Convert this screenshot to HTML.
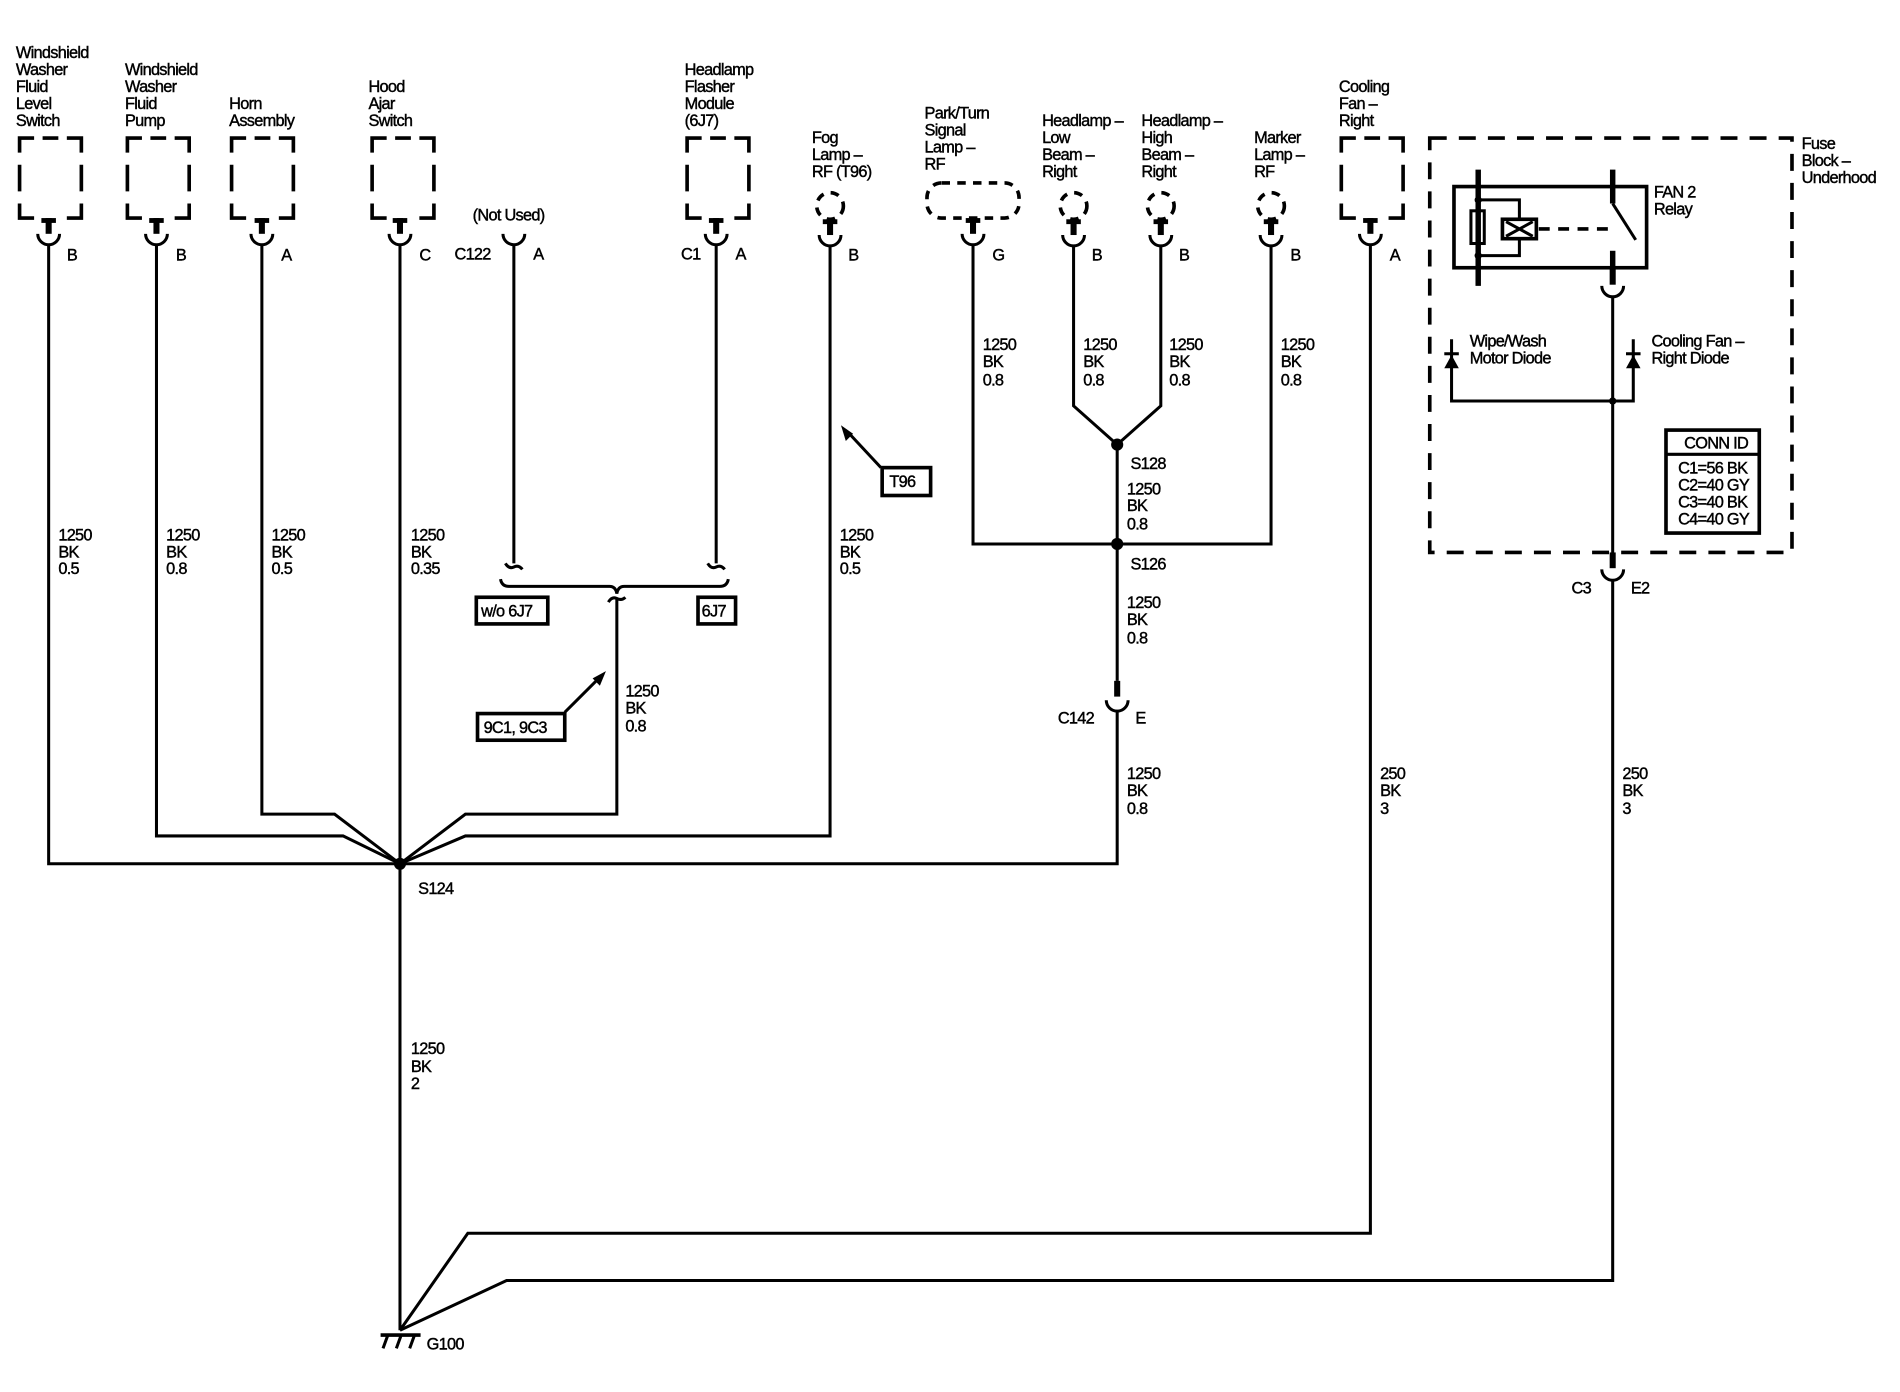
<!DOCTYPE html>
<html><head><meta charset="utf-8"><style>
html,body{margin:0;padding:0;background:#fff;}
svg{display:block;}
text{font-family:"Liberation Sans",Arial,sans-serif;font-size:13.5px;fill:#000;stroke:#000;stroke-width:0.35px;letter-spacing:-0.6px;}
</style></head><body>
<svg width="1900" height="1392" viewBox="0 0 1568 1149" xmlns="http://www.w3.org/2000/svg">
<defs>
<g id="mc">
<line x1="-6" y1="2" x2="6" y2="2" stroke="#000" stroke-width="4"/>
<line x1="0" y1="0" x2="0" y2="13" stroke="#000" stroke-width="5"/>
<path d="M-9,13 A9,9 0 0 0 9,13" fill="none" stroke="#000" stroke-width="2.5"/>
</g>
<g id="cup"><path d="M-9,0 A9,9 0 0 0 9,0" fill="none" stroke="#000" stroke-width="2.5"/></g>
<g id="bx" fill="none" stroke="#000" stroke-width="3">
<path d="M0,12 L0,0 L12,0 M19,0 L32,0 M39,0 L51,0 L51,12 M51,22 L51,44 M51,54 L51,66 L39,66 M12,66 L0,66 L0,54 M0,44 L0,22"/>
</g>
</defs>
<use href="#bx" x="16" y="114"/>
<use href="#bx" x="105" y="114"/>
<use href="#bx" x="191" y="114"/>
<use href="#bx" x="307" y="114"/>
<use href="#bx" x="567" y="114"/>
<use href="#bx" x="1107" y="114"/>
<g fill="none" stroke="#000" stroke-width="2.5">
<rect x="1180" y="114" width="299" height="342" stroke-width="3" stroke-dasharray="14,10"/>
<g stroke-width="3" stroke-dasharray="7,6">
<circle cx="685" cy="170" r="11"/>
<circle cx="886" cy="170" r="11"/>
<circle cx="958" cy="170" r="11"/>
<circle cx="1049" cy="170" r="11"/>
<rect x="765" y="151" width="76" height="29" rx="12"/>
</g>
</g>
<use href="#mc" x="40" y="180"/>
<use href="#mc" x="129" y="180"/>
<use href="#mc" x="216" y="180"/>
<use href="#mc" x="330" y="180"/>
<use href="#mc" x="591" y="180"/>
<use href="#mc" x="685" y="181"/>
<use href="#mc" x="803" y="180"/>
<use href="#mc" x="886" y="181"/>
<use href="#mc" x="958" y="181"/>
<use href="#mc" x="1049" y="181"/>
<use href="#mc" x="1131" y="180"/>
<use href="#cup" x="424" y="193"/>
<g stroke="#000" stroke-width="5"><line x1="922" y1="562" x2="922" y2="575"/><line x1="1331" y1="456" x2="1331" y2="469"/><line x1="1331" y1="221" x2="1331" y2="235"/></g>
<use href="#cup" x="922" y="578"/>
<use href="#cup" x="1331" y="470"/>
<use href="#cup" x="1331" y="236"/>
<g fill="none" stroke="#000" stroke-width="2.5" stroke-linejoin="miter">
<polyline points="40,202 40,713 922,713 922,586"/>
<polyline points="129,202 129,690 283,690 330,713"/>
<polyline points="216,202 216,672 276,672 330,713"/>
<line x1="330" y1="202" x2="330" y2="1098"/>
<polyline points="685,203 685,690 384,690 330,713"/>
<polyline points="509,494 509,672 384,672 330,713"/>
<line x1="424" y1="202" x2="424" y2="465"/>
<line x1="591" y1="202" x2="591" y2="465"/>
<path d="M417,465 Q420,470 424,468 Q428,466 431,470"/>
<path d="M584,465 Q587,470 591,468 Q595,466 598,470"/>
<path d="M413,478 Q414,484 420,484 L503,484 Q508,484 509,490 Q510,484 515,484 L594,484 Q600,484 601,478"/>
<path d="M502,497 Q505,492 509,494 Q513,496 516,493"/>
<polyline points="803,203 803,449 1049,449 1049,203"/>
<polyline points="886,203 886,335 922,367 958,335 958,203"/>
<line x1="922" y1="367" x2="922" y2="562"/>
<polyline points="1131,202 1131,1018 386,1018 330,1098"/>
<polyline points="1331,478 1331,1057 418,1057 330,1098"/>
<line x1="1331" y1="245" x2="1331" y2="456"/>
<rect x="1200" y="154" width="159" height="67" stroke-width="3"/>
<line x1="1220" y1="140" x2="1220" y2="236" stroke-width="4.5"/>
<line x1="1331" y1="140" x2="1331" y2="168" stroke-width="4.5"/>
<line x1="1331" y1="168" x2="1350" y2="198"/>
<line x1="1331" y1="207" x2="1331" y2="222" stroke-width="4.5"/>
<rect x="1214" y="174" width="11" height="27"/>
<polyline points="1220,165 1254,165 1254,181"/>
<polyline points="1220,211 1254,211 1254,197"/>
<rect x="1240" y="181" width="28" height="16" stroke-width="3"/>
<path d="M1243,183 L1265,195 M1243,195 L1265,183"/>
<line x1="1270" y1="189" x2="1330" y2="189" stroke-width="3" stroke-dasharray="9,7"/>
<polyline points="1198,280 1198,331 1348,331 1348,280"/>
<path d="M1192,292 L1204,292"/>
<path d="M1342,292 L1354,292"/>
<rect x="1375" y="355" width="77" height="85" stroke-width="3"/>
<line x1="1375" y1="375" x2="1452" y2="375" stroke-width="2.5"/>
<rect x="393" y="493" width="59" height="22" stroke-width="3"/>
<rect x="576" y="493" width="31" height="22" stroke-width="3"/>
<rect x="394" y="589" width="72" height="22" stroke-width="3"/>
<rect x="728" y="386" width="40" height="23" stroke-width="3"/>
<line x1="466" y1="588" x2="494" y2="560"/>
<line x1="727" y1="386" x2="700" y2="357"/>
<line x1="314" y1="1102" x2="347" y2="1102" stroke-width="3"/>
<path d="M320,1102 L316,1113 M331,1102 L327,1113 M342,1102 L338,1113" stroke-width="2.5"/>
</g>
<g fill="#000">
<path d="M1192,304 L1204,304 L1198,293 Z"/>
<path d="M1342,304 L1354,304 L1348,293 Z"/>
<path d="M500,554 L489,560 L495,566 Z"/>
<path d="M694,351 L698,364 L704,358 Z"/>
<circle cx="330" cy="713" r="5"/>
<circle cx="922" cy="367" r="5"/>
<circle cx="922" cy="449" r="5"/>
<circle cx="1331" cy="331" r="3"/>
<circle cx="1220" cy="165" r="3"/>
<circle cx="1220" cy="211" r="3"/>
</g>
<g>
<text x="13" y="48">Windshield</text><text x="13" y="62">Washer</text><text x="13" y="76">Fluid</text><text x="13" y="90">Level</text><text x="13" y="104">Switch</text>
<text x="103" y="62">Windshield</text><text x="103" y="76">Washer</text><text x="103" y="90">Fluid</text><text x="103" y="104">Pump</text>
<text x="189" y="90">Horn</text><text x="189" y="104">Assembly</text>
<text x="304" y="76">Hood</text><text x="304" y="90">Ajar</text><text x="304" y="104">Switch</text>
<text x="565" y="62">Headlamp</text><text x="565" y="76">Flasher</text><text x="565" y="90">Module</text><text x="565" y="104">(6J7)</text>
<text x="670" y="118">Fog</text><text x="670" y="132">Lamp –</text><text x="670" y="146">RF (T96)</text>
<text x="763" y="98">Park/Turn</text><text x="763" y="112">Signal</text><text x="763" y="126">Lamp –</text><text x="763" y="140">RF</text>
<text x="860" y="104">Headlamp –</text><text x="860" y="118">Low</text><text x="860" y="132">Beam –</text><text x="860" y="146">Right</text>
<text x="942" y="104">Headlamp –</text><text x="942" y="118">High</text><text x="942" y="132">Beam –</text><text x="942" y="146">Right</text>
<text x="1035" y="118">Marker</text><text x="1035" y="132">Lamp –</text><text x="1035" y="146">RF</text>
<text x="1105" y="76">Cooling</text><text x="1105" y="90">Fan –</text><text x="1105" y="104">Right</text>
<text x="1487" y="123">Fuse</text><text x="1487" y="137">Block –</text><text x="1487" y="151">Underhood</text>
<text x="1365" y="163">FAN 2</text><text x="1365" y="177">Relay</text>
<text x="1213" y="286">Wipe/Wash</text><text x="1213" y="300">Motor Diode</text>
<text x="1363" y="286">Cooling Fan –</text><text x="1363" y="300">Right Diode</text>
<text x="1390" y="370">CONN ID</text>
<text x="1385" y="391">C1=56 BK</text><text x="1385" y="405">C2=40 GY</text><text x="1385" y="419">C3=40 BK</text><text x="1385" y="433">C4=40 GY</text>
<text x="55" y="215">B</text><text x="145" y="215">B</text><text x="232" y="215">A</text><text x="346" y="215">C</text>
<text x="390" y="182">(Not Used)</text><text x="375" y="214">C122</text><text x="440" y="214">A</text>
<text x="562" y="214">C1</text><text x="607" y="214">A</text><text x="700" y="215">B</text>
<text x="819" y="215">G</text><text x="901" y="215">B</text><text x="973" y="215">B</text><text x="1065" y="215">B</text><text x="1147" y="215">A</text>
<text x="48" y="446">1250</text><text x="48" y="460">BK</text><text x="48" y="474">0.5</text>
<text x="137" y="446">1250</text><text x="137" y="460">BK</text><text x="137" y="474">0.8</text>
<text x="224" y="446">1250</text><text x="224" y="460">BK</text><text x="224" y="474">0.5</text>
<text x="339" y="446">1250</text><text x="339" y="460">BK</text><text x="339" y="474">0.35</text>
<text x="693" y="446">1250</text><text x="693" y="460">BK</text><text x="693" y="474">0.5</text>
<text x="397" y="509">w/o 6J7</text><text x="579" y="509">6J7</text>
<text x="399" y="605">9C1, 9C3</text><text x="734" y="402">T96</text>
<text x="516" y="575">1250</text><text x="516" y="589">BK</text><text x="516" y="604">0.8</text>
<text x="811" y="289">1250</text><text x="811" y="303">BK</text><text x="811" y="318">0.8</text>
<text x="894" y="289">1250</text><text x="894" y="303">BK</text><text x="894" y="318">0.8</text>
<text x="965" y="289">1250</text><text x="965" y="303">BK</text><text x="965" y="318">0.8</text>
<text x="1057" y="289">1250</text><text x="1057" y="303">BK</text><text x="1057" y="318">0.8</text>
<text x="933" y="387">S128</text>
<text x="930" y="408">1250</text><text x="930" y="422">BK</text><text x="930" y="437">0.8</text>
<text x="933" y="470">S126</text>
<text x="930" y="502">1250</text><text x="930" y="516">BK</text><text x="930" y="531">0.8</text>
<text x="873" y="597">C142</text><text x="937" y="597">E</text>
<text x="930" y="643">1250</text><text x="930" y="657">BK</text><text x="930" y="672">0.8</text>
<text x="1297" y="490">C3</text><text x="1346" y="490">E2</text>
<text x="1139" y="643">250</text><text x="1139" y="657">BK</text><text x="1139" y="672">3</text>
<text x="1339" y="643">250</text><text x="1339" y="657">BK</text><text x="1339" y="672">3</text>
<text x="345" y="738">S124</text>
<text x="339" y="870">1250</text><text x="339" y="885">BK</text><text x="339" y="899">2</text>
<text x="352" y="1114">G100</text>
</g>
</svg>
</body></html>
